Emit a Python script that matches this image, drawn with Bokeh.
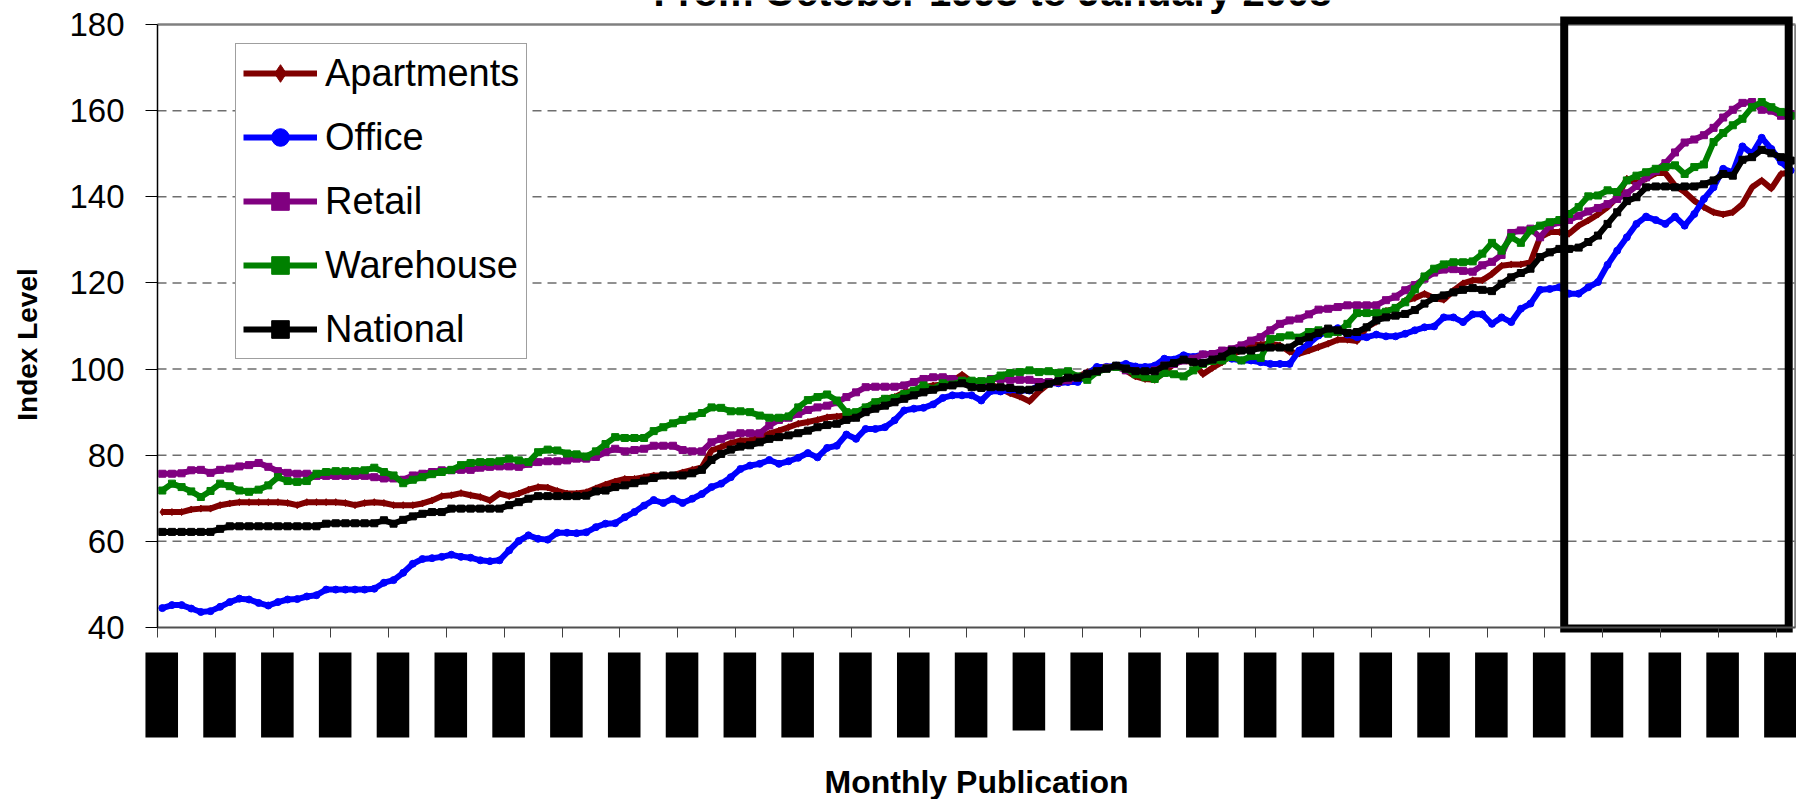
from bokeh.plotting import figure
from bokeh.models import (Range1d, FixedTicker, Legend, LegendItem, Label,
                          ColumnDataSource, CustomJSTickFormatter)
from bokeh.embed import file_html
from bokeh.resources import INLINE

# ---------------- data (monthly, index 0 = October 1993) ----------------
apartments = [
    66.8, 66.8, 66.8, 67.4, 67.6, 67.6, 68.4, 68.8, 69.1, 69.1,
    69.1, 69.1, 69.1, 68.9, 68.4, 69.1, 69.1, 69.1, 69.1, 68.9,
    68.4, 68.9, 69.1, 68.9, 68.4, 68.4, 68.4, 68.8, 69.5, 70.5,
    70.7, 71.2, 70.7, 70.3, 69.5, 71.1, 70.5, 71.1, 72.0, 72.6,
    72.5, 71.7, 71.1, 71.1,
    71.4, 72.3, 73.2, 73.9, 74.5, 74.5, 74.9, 75.3, 75.3, 75.3,
    76.0, 76.6, 77.2, 81.1, 81.9, 82.8, 83.4, 83.4, 84.2, 85.0,
    85.7, 86.5, 87.3, 87.7, 88.2, 88.8, 89.0, 89.2, 89.8, 91.1,
    92.3, 93.1, 93.5, 94.6, 95.0, 95.8, 96.2, 96.4, 97.2, 98.7,
    97.0, 96.6, 96.4, 95.5,
    94.4, 93.6, 92.5, 94.8, 96.6, 97.0, 97.7, 98.2, 99.3, 99.7,
    100.1, 100.8, 99.7, 98.3, 97.7, 97.5, 99.3, 101.2, 102.0, 101.6,
    98.8, 100.3, 101.6, 103.4, 104.3, 105.5, 105.7, 105.9, 105.5, 104.0,
    103.6, 104.3, 105.1, 105.9, 106.8, 106.8, 106.5, 109.7, 111.0, 113.5,
    114.0,
    115.9, 116.5, 117.5, 116.5, 116.1, 118.2, 119.9, 120.6, 120.6, 122.1,
    124.0, 124.3, 124.3, 124.8, 130.6, 131.8, 131.8, 131.4, 133.3, 134.5,
    135.9, 137.6, 139.9, 144.2, 143.2, 144.2, 145.5, 145.5, 142.6, 141.1,
    139.1, 137.6, 136.4, 135.9, 136.4, 138.3, 142.2, 143.8, 141.9, 145.3,
    145.7,
]
office = [
    44.5, 45.2, 45.2, 44.4, 43.6, 43.8, 44.8, 45.9, 46.7, 46.5,
    45.7, 45.1, 45.9, 46.5, 46.6, 47.2, 47.5, 48.8, 48.8, 48.8,
    48.8, 48.8, 49.0, 50.4, 51.0, 52.7, 54.8, 55.9, 56.1, 56.4,
    56.9, 56.4, 56.2, 55.6, 55.4, 55.6, 57.9, 60.1, 61.4, 60.6,
    60.4, 62.0, 62.0, 61.9,
    62.1, 63.3, 64.1, 64.2, 65.6, 66.8, 68.3, 69.6, 68.9, 69.9,
    68.9, 69.9, 71.0, 72.6, 73.4, 74.9, 76.8, 77.6, 78.0, 78.9,
    78.0, 78.6, 79.4, 80.5, 79.5, 81.7, 82.2, 84.8, 83.8, 86.1,
    86.1, 86.5, 88.1, 90.4, 90.8, 91.0, 91.8, 93.3, 93.9, 93.9,
    93.9, 92.7, 94.9, 94.8,
    95.2, 95.0, 95.0, 96.2, 96.7, 96.7, 97.0, 97.0, 98.8, 100.5,
    100.5, 100.8, 101.2, 100.6, 100.5, 100.8, 102.4, 102.2, 103.2, 102.8,
    103.4, 103.5, 103.4, 102.4, 102.0, 102.0, 101.6, 101.2, 101.2, 101.2,
    104.3, 105.9, 107.8, 108.8, 109.5, 108.0, 107.4, 107.4, 108.0, 107.6,
    107.6,
    108.2, 109.0, 109.7, 109.9, 112.0, 112.0, 110.9, 112.7, 112.7, 110.5,
    112.0, 110.9, 114.0, 115.2, 118.4, 118.6, 119.0, 117.5, 117.5, 119.0,
    120.2, 124.2, 127.5, 130.6, 133.7, 135.4, 134.6, 133.7, 135.4, 133.3,
    136.0, 139.5, 142.2, 146.5, 145.7, 151.7, 150.0, 153.7, 151.1, 148.1,
    146.1,
]
retail = [
    75.7, 75.7, 75.8, 76.5, 76.6, 75.9, 76.6, 76.9, 77.4, 77.7,
    78.2, 77.3, 76.3, 75.9, 75.7, 75.7, 75.2, 75.2, 75.2, 75.2,
    75.2, 75.2, 74.9, 74.6, 74.6, 74.3, 75.3, 75.7, 76.1, 76.5,
    76.5, 76.6, 76.6, 77.1, 77.3, 77.4, 77.4, 77.3, 78.0, 78.4,
    78.6, 78.6, 78.8, 79.2,
    79.2, 79.6, 80.7, 81.5, 80.9, 81.2, 81.5, 82.2, 82.2, 82.2,
    81.2, 80.9, 80.9, 83.0, 83.8, 84.6, 85.1, 85.1, 85.1, 86.9,
    88.2, 88.7, 89.6, 90.5, 91.1, 91.5, 92.3, 93.5, 94.6, 95.8,
    95.9, 95.9, 95.9, 96.2, 97.0, 97.7, 98.1, 98.1, 97.7, 97.3,
    97.0, 96.4, 97.7, 97.7,
    97.5, 97.5, 97.5, 97.0, 97.0, 97.0, 97.4, 98.0, 98.9, 99.5,
    100.3, 100.5, 99.7, 99.5, 99.3, 99.7, 100.8, 101.2, 102.0, 102.4,
    103.4, 103.5, 104.3, 104.6, 105.5, 106.6, 107.4, 109.0, 110.5, 111.3,
    111.7, 112.7, 113.8, 114.0, 114.4, 114.8, 114.8, 114.8, 114.8, 116.0,
    116.8,
    118.3, 119.5, 121.0, 122.4, 123.1, 123.2, 122.8, 122.6, 124.1, 124.9,
    126.5, 131.6, 132.2, 132.6, 130.6, 133.3, 134.1, 134.6, 135.6, 136.6,
    137.4, 138.3, 139.5, 140.8, 142.5, 144.5, 146.0, 147.8, 150.3, 152.6,
    153.3, 154.3, 156.0, 158.4, 160.2, 161.8, 162.0, 160.2, 160.0, 158.8,
    159.2,
]
warehouse = [
    71.8, 73.4, 72.6, 71.6, 70.3, 71.7, 73.4, 72.8, 71.8, 71.5,
    72.0, 73.0, 74.9, 74.0, 73.8, 74.0, 75.7, 76.1, 76.3, 76.3,
    76.3, 76.5, 77.1, 76.1, 75.3, 73.5, 74.3, 74.9, 75.6, 76.1,
    76.6, 77.7, 78.2, 78.4, 78.4, 78.6, 79.2, 78.8, 78.4, 80.7,
    81.3, 81.1, 80.4, 80.2,
    79.7, 80.9, 82.6, 84.2, 84.0, 84.0, 84.0, 85.6, 86.5, 87.4,
    88.2, 89.0, 89.8, 91.1, 91.0, 90.2, 90.2, 90.0, 89.2, 88.7,
    88.7, 89.0, 91.1, 92.8, 93.5, 94.1, 92.7, 90.0, 90.0, 91.1,
    92.3, 93.1, 93.3, 94.2, 95.0, 96.2, 95.4, 96.7, 96.4, 97.3,
    97.3, 97.2, 97.5, 98.5,
    99.1, 99.3, 99.7, 99.3, 99.5, 99.1, 99.5, 98.3, 97.5, 99.3,
    100.1, 100.5, 100.1, 98.8, 98.1, 97.7, 99.1, 98.8, 98.3, 99.7,
    101.2, 101.9, 102.0, 102.8, 102.0, 103.0, 102.6, 107.0, 107.4, 107.8,
    107.3, 108.6, 109.0, 108.2, 108.6, 110.5, 113.0, 113.0, 113.0, 113.3,
    114.2,
    115.5, 118.5, 121.5, 123.3, 124.3, 124.8, 124.8, 125.0, 126.8, 129.3,
    127.5, 130.6, 129.3, 132.2, 133.3, 134.1, 134.6, 136.0, 137.6, 140.1,
    140.3, 141.5, 141.1, 143.8, 144.9, 145.7, 146.5, 146.9, 147.3, 145.3,
    146.9, 147.5, 152.7, 154.8, 156.6, 158.1, 160.8, 162.0, 160.8, 159.7,
    158.8,
]
national = [
    62.2, 62.2, 62.2, 62.2, 62.2, 62.2, 62.9, 63.5, 63.5, 63.5,
    63.5, 63.5, 63.5, 63.5, 63.5, 63.5, 63.5, 64.1, 64.2, 64.2,
    64.2, 64.2, 64.2, 64.9, 64.1, 65.0, 65.8, 66.4, 66.8, 66.8,
    67.6, 67.6, 67.6, 67.6, 67.6, 67.6, 68.4, 69.1, 69.9, 70.5,
    70.5, 70.5, 70.5, 70.5,
    70.6, 71.6, 71.8, 72.6, 73.0, 73.5, 74.1, 74.7, 75.3, 75.3,
    75.3, 75.8, 76.6, 78.9, 80.3, 81.3, 82.0, 82.3, 83.0, 83.8,
    84.2, 84.6, 85.1, 85.7, 86.5, 87.0, 87.3, 88.2, 88.7, 90.0,
    90.8, 91.5, 92.3, 93.1, 93.9, 94.6, 95.2, 95.8, 96.2, 96.7,
    95.8, 95.6, 95.8, 95.8,
    95.6, 95.2, 95.2, 95.8, 96.6, 97.2, 98.0, 98.0, 98.9, 99.5,
    100.1, 100.8, 100.1, 99.5, 99.5, 99.5, 100.8, 101.4, 102.2, 101.6,
    101.4, 102.2, 102.9, 104.3, 104.3, 104.3, 105.0, 105.0, 105.0, 105.0,
    106.5, 107.4, 108.4, 109.4, 109.0, 108.4, 108.6, 109.7, 111.3, 112.0,
    112.4,
    112.8, 113.7, 115.2, 116.5, 117.1, 117.8, 118.4, 118.8, 118.4, 118.1,
    119.8, 121.3, 122.3, 123.3, 126.0, 127.1, 127.9, 127.9, 128.2, 129.5,
    131.0, 133.7, 136.4, 139.0, 139.9, 142.2, 142.4, 142.4, 142.2, 142.4,
    142.4, 142.9, 143.8, 145.3, 144.9, 148.6, 149.2, 150.9, 150.1, 149.2,
    148.4,
]
months = list(range(len(national)))

series_names = ["Apartments", "Office", "Retail", "Warehouse", "National"]
y_ticks = [40, 60, 80, 100, 120, 140, 160, 180]
grid_values = [60, 80, 100, 120, 140, 160]
x_tick_months = [m - 0.5 for m in range(0, 170, 6)]   # category boundaries, every 6 months
short_label_slots = [15, 16]
highlight_months = [145.5, 168.8]   # boxed period (last ~2 years)

title_text = "From October 1993 to January 2008"
y_title = "Index Level"
x_title = "Monthly Publication"

# ---------------- geometry / styling ----------------
colors = ["#800000", "#0000FF", "#800080", "#008000", "#000000"]
markers = ["diamond", "circle", "square", "square", "square"]
FONT = "Liberation Sans"
W, H = 1796, 799
PLOT_LEFT_PX, PLOT_TOP_PX, PLOT_BOTTOM_PX = 157, 24, 627
X_FIRST, X_LAST = -0.5, 169.5          # plot area in category units
Y_LO, Y_HI = 40, 180
PX_X = 9.635                            # px per month
PX_Y = (PLOT_BOTTOM_PX - PLOT_TOP_PX) / (Y_HI - Y_LO)

def xd(px):   # canvas x pixel -> data
    return X_FIRST + (px - PLOT_LEFT_PX) / PX_X

def yd(py):   # canvas y pixel -> data
    return Y_LO + (PLOT_BOTTOM_PX - py) / PX_Y

p = figure(width=W, height=H, output_backend="svg", toolbar_location=None,
           x_range=Range1d(xd(0), xd(W)), y_range=Range1d(yd(H), yd(0)),
           min_border=0, min_border_left=0, min_border_right=0,
           min_border_top=0, min_border_bottom=0,
           background_fill_color="white", border_fill_color="white")
p.title.visible = False
p.outline_line_color = None

# axes (fixed at the plot-area edges)
p.yaxis.fixed_location = X_FIRST
p.yaxis.ticker = FixedTicker(ticks=y_ticks)
p.yaxis.bounds = (Y_LO, Y_HI)
p.yaxis.major_tick_out = 12
p.yaxis.major_tick_in = 0
p.yaxis.minor_tick_line_color = None
p.yaxis.major_label_standoff = 21
p.yaxis.major_label_text_font = FONT
p.yaxis.major_label_text_font_size = "33px"
p.yaxis.major_label_text_color = "black"
p.yaxis.axis_line_color = "black"
p.yaxis.axis_line_width = 1.5
p.yaxis.major_tick_line_color = "black"

p.xaxis.fixed_location = Y_LO
p.xaxis.ticker = FixedTicker(ticks=x_tick_months)
p.xaxis.bounds = (X_FIRST, X_LAST)
p.xaxis.major_tick_out = 10
p.xaxis.major_tick_in = 0
p.xaxis.minor_tick_line_color = None
p.xaxis.formatter = CustomJSTickFormatter(code="return ''")
p.xaxis.axis_line_color = "#505050"
p.xaxis.axis_line_width = 2
p.xaxis.major_tick_line_color = "#404040"

p.xgrid.visible = False
p.ygrid.visible = False
# dashed horizontal gridlines across the plot area only
p.segment(x0=[X_FIRST] * len(grid_values), x1=[X_LAST] * len(grid_values),
          y0=grid_values, y1=grid_values, line_color="#6e6e6e",
          line_width=1.5, line_dash="9 6")

# plot-area border (top and right edges, grey)
p.segment(x0=[X_FIRST, X_LAST], y0=[Y_HI, Y_LO], x1=[X_LAST, X_LAST], y1=[Y_HI, Y_HI],
          line_color="#808080", line_width=2.5)

# series
items = []
for name, vals, col, mk in zip(series_names,
                               [apartments, office, retail, warehouse, national],
                               colors, markers):
    src = ColumnDataSource(dict(x=months, y=vals))
    r1 = p.line("x", "y", source=src, line_color=col, line_width=6)
    r2 = p.scatter("x", "y", source=src, marker=mk, size=7,
                   fill_color=col, line_color=col)
    items.append(LegendItem(label=name, renderers=[r1, r2]))

# highlighted period
p.quad(left=[highlight_months[0]], right=[highlight_months[1]],
       top=[yd(20)], bottom=[yd(628)],
       fill_alpha=0, line_color="black", line_width=8, line_join="miter")

# x tick labels (rendered as solid black blocks in the reference)
lab_src = ColumnDataSource(dict(
    left=[t + 0.44 - 1.69 for t in x_tick_months],
    right=[t + 0.44 + 1.69 for t in x_tick_months],
    top=[yd(652) for _ in x_tick_months],
    bottom=[yd(730) if k in short_label_slots else yd(737)
            for k in range(len(x_tick_months))],
))
p.quad(left="left", right="right", top="top", bottom="bottom", source=lab_src,
       fill_color="black", line_color=None)

legend = Legend(items=items, location=(235, 440), orientation="vertical",
                label_text_font=FONT, label_text_font_size="38px",
                label_text_color="black", glyph_width=74, glyph_height=44,
                label_height=44, spacing=20, padding=7, margin=0,
                label_standoff=8, border_line_color="#404040",
                border_line_width=1.5, background_fill_color="white",
                background_fill_alpha=1.0)
p.add_layout(legend)

# texts
p.add_layout(Label(x=xd(992), y=yd(10), y_offset=19, text=title_text,
                   text_font=FONT, text_font_style="bold",
                   text_font_size="40px", text_align="center",
                   text_baseline="alphabetic", text_color="black"))
p.add_layout(Label(x=xd(27), y=yd(344), text=y_title,
                   text_font=FONT, text_font_style="bold",
                   text_font_size="28px", text_align="center",
                   text_baseline="middle", angle=1.5707963, text_color="black"))
p.add_layout(Label(x=xd(976), y=yd(781), text=x_title,
                   text_font=FONT, text_font_style="bold",
                   text_font_size="32px", text_align="center",
                   text_baseline="middle", text_color="black"))

open("out.html", "w").write(file_html(p, INLINE))
